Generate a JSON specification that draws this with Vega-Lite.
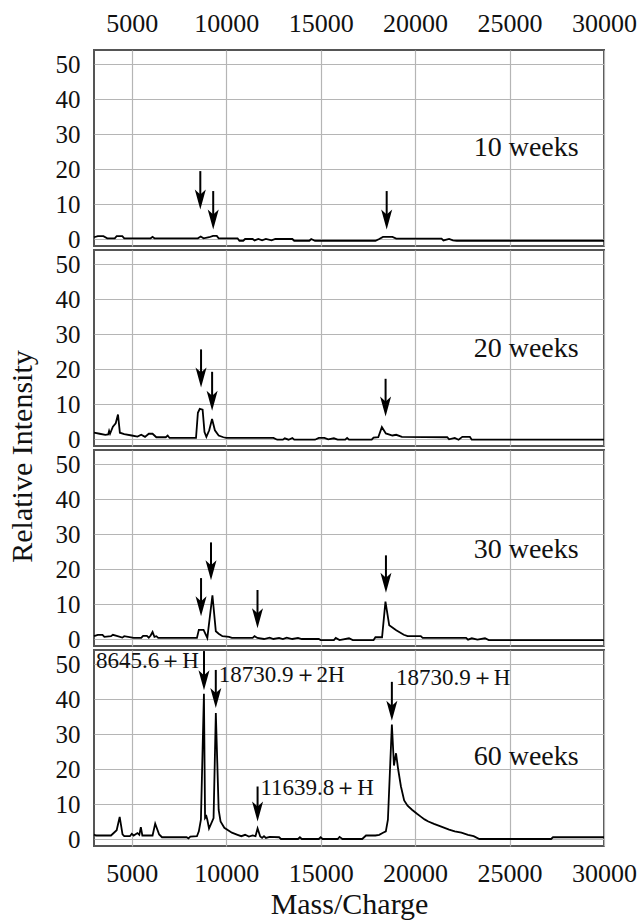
{
  "$schema": "https://vega.github.io/schema/vega-lite/v6.json",
  "padding": {"top": 9, "left": 6, "right": 0, "bottom": 0},
  "spacing": 4,
  "bounds": "flush",
  "config": {
    "font": "Liberation Serif",
    "view": {"stroke": "#555555", "strokeWidth": 2},
    "axis": {
      "labelFont": "Liberation Serif", "labelFontSize": 26, "labelColor": "#111111",
      "titleFont": "Liberation Serif", "titleFontSize": 30, "titleFontWeight": "normal", "titleColor": "#111111",
      "gridColor": "#b5b5b5", "gridWidth": 1.2, "domain": false, "ticks": false, "tickSize": 0,
      "labelFlush": false, "labelBound": false, "labelOverlap": false
    },
    "axisY": {"labelFontSize": 25}
  },
  "datasets": {
    "curve": [
      {"p": "10", "m": 3000, "v": 0.5}, {"p": "10", "m": 3200, "v": 0.8}, {"p": "10", "m": 3500, "v": 0.8}, {"p": "10", "m": 3700, "v": 0.2},
      {"p": "10", "m": 4100, "v": 0.2}, {"p": "10", "m": 4200, "v": 0.8}, {"p": "10", "m": 4500, "v": 0.8}, {"p": "10", "m": 4600, "v": 0.2},
      {"p": "10", "m": 6000, "v": 0.2}, {"p": "10", "m": 6100, "v": 0.6}, {"p": "10", "m": 6200, "v": 0.2}, {"p": "10", "m": 8500, "v": 0.2},
      {"p": "10", "m": 8650, "v": 0.7}, {"p": "10", "m": 8800, "v": 0.2}, {"p": "10", "m": 9100, "v": 0.5}, {"p": "10", "m": 9300, "v": 0.9},
      {"p": "10", "m": 9500, "v": 0.9}, {"p": "10", "m": 9600, "v": 0.2}, {"p": "10", "m": 10600, "v": 0.2}, {"p": "10", "m": 10700, "v": -0.5},
      {"p": "10", "m": 10900, "v": -0.5}, {"p": "10", "m": 11000, "v": 0}, {"p": "10", "m": 11400, "v": 0}, {"p": "10", "m": 11500, "v": -0.4},
      {"p": "10", "m": 11700, "v": 0}, {"p": "10", "m": 11900, "v": -0.4}, {"p": "10", "m": 12100, "v": 0}, {"p": "10", "m": 12400, "v": -0.4},
      {"p": "10", "m": 12600, "v": 0}, {"p": "10", "m": 13500, "v": 0}, {"p": "10", "m": 13600, "v": -0.5}, {"p": "10", "m": 14400, "v": -0.5},
      {"p": "10", "m": 14500, "v": 0}, {"p": "10", "m": 14700, "v": -0.5}, {"p": "10", "m": 17900, "v": -0.5}, {"p": "10", "m": 18100, "v": 0},
      {"p": "10", "m": 18300, "v": 0.6}, {"p": "10", "m": 18800, "v": 0.6}, {"p": "10", "m": 19000, "v": 0.1}, {"p": "10", "m": 21400, "v": 0.1},
      {"p": "10", "m": 21500, "v": -0.4}, {"p": "10", "m": 21800, "v": 0}, {"p": "10", "m": 22000, "v": -0.4}, {"p": "10", "m": 22200, "v": -0.5},
      {"p": "10", "m": 30000, "v": -0.5},

      {"p": "20", "m": 3000, "v": 1.8}, {"p": "20", "m": 3300, "v": 1.5}, {"p": "20", "m": 3600, "v": 1.2}, {"p": "20", "m": 3750, "v": 1.3},
      {"p": "20", "m": 3800, "v": 2.3}, {"p": "20", "m": 3850, "v": 1.5}, {"p": "20", "m": 4000, "v": 3.5}, {"p": "20", "m": 4150, "v": 4.5},
      {"p": "20", "m": 4270, "v": 7.0}, {"p": "20", "m": 4370, "v": 1.8}, {"p": "20", "m": 4600, "v": 1.4}, {"p": "20", "m": 5000, "v": 1.0},
      {"p": "20", "m": 5300, "v": 0.7}, {"p": "20", "m": 5500, "v": 1.2}, {"p": "20", "m": 5700, "v": 0.6}, {"p": "20", "m": 5900, "v": 1.5},
      {"p": "20", "m": 6100, "v": 1.5}, {"p": "20", "m": 6300, "v": 0.5}, {"p": "20", "m": 6800, "v": 0.5}, {"p": "20", "m": 6900, "v": 1.0},
      {"p": "20", "m": 7000, "v": 0.3}, {"p": "20", "m": 8400, "v": 0.3}, {"p": "20", "m": 8500, "v": 7.5}, {"p": "20", "m": 8600, "v": 8.6},
      {"p": "20", "m": 8750, "v": 8.4}, {"p": "20", "m": 8850, "v": 2.0}, {"p": "20", "m": 8950, "v": 0.6}, {"p": "20", "m": 9100, "v": 2.5},
      {"p": "20", "m": 9250, "v": 5.7}, {"p": "20", "m": 9400, "v": 2.5}, {"p": "20", "m": 9600, "v": 1.0}, {"p": "20", "m": 9850, "v": 0.5},
      {"p": "20", "m": 10000, "v": 0.3}, {"p": "20", "m": 12500, "v": 0.3}, {"p": "20", "m": 12700, "v": -0.2}, {"p": "20", "m": 13000, "v": -0.2},
      {"p": "20", "m": 13100, "v": 0.2}, {"p": "20", "m": 13300, "v": -0.2}, {"p": "20", "m": 13500, "v": 0.3}, {"p": "20", "m": 13600, "v": -0.2},
      {"p": "20", "m": 14700, "v": -0.2}, {"p": "20", "m": 14900, "v": 0.3}, {"p": "20", "m": 15200, "v": 0.3}, {"p": "20", "m": 15400, "v": -0.1},
      {"p": "20", "m": 15700, "v": 0.2}, {"p": "20", "m": 15900, "v": -0.2}, {"p": "20", "m": 16300, "v": -0.2}, {"p": "20", "m": 16400, "v": 0.3},
      {"p": "20", "m": 16500, "v": -0.2}, {"p": "20", "m": 17700, "v": -0.2}, {"p": "20", "m": 17800, "v": 0.4}, {"p": "20", "m": 18050, "v": 0.5},
      {"p": "20", "m": 18240, "v": 3.4}, {"p": "20", "m": 18450, "v": 1.6}, {"p": "20", "m": 18800, "v": 1.0}, {"p": "20", "m": 19000, "v": 1.2},
      {"p": "20", "m": 19300, "v": 0.6}, {"p": "20", "m": 21700, "v": 0.5}, {"p": "20", "m": 21800, "v": -0.1}, {"p": "20", "m": 22100, "v": 0.3},
      {"p": "20", "m": 22300, "v": -0.2}, {"p": "20", "m": 22500, "v": 0.6}, {"p": "20", "m": 22900, "v": 0.6}, {"p": "20", "m": 23000, "v": -0.2},
      {"p": "20", "m": 30000, "v": -0.2},

      {"p": "30", "m": 3000, "v": 0.8}, {"p": "30", "m": 3200, "v": 1.2}, {"p": "30", "m": 3450, "v": 1.2}, {"p": "30", "m": 3550, "v": 0.6},
      {"p": "30", "m": 3900, "v": 0.8}, {"p": "30", "m": 4000, "v": 1.2}, {"p": "30", "m": 4200, "v": 0.9}, {"p": "30", "m": 4500, "v": 0.4},
      {"p": "30", "m": 4600, "v": 0.8}, {"p": "30", "m": 5100, "v": 0.3}, {"p": "30", "m": 5500, "v": 0.3}, {"p": "30", "m": 5600, "v": 0.9},
      {"p": "30", "m": 5800, "v": 0.9}, {"p": "30", "m": 5900, "v": 0.4}, {"p": "30", "m": 6000, "v": 1.0}, {"p": "30", "m": 6100, "v": 2.0},
      {"p": "30", "m": 6200, "v": 0.6}, {"p": "30", "m": 6300, "v": 0.8}, {"p": "30", "m": 6400, "v": 0.3}, {"p": "30", "m": 8450, "v": 0.3},
      {"p": "30", "m": 8550, "v": 2.6}, {"p": "30", "m": 8800, "v": 2.6}, {"p": "30", "m": 9000, "v": 0.3}, {"p": "30", "m": 9270, "v": 12.5},
      {"p": "30", "m": 9450, "v": 2.2}, {"p": "30", "m": 9600, "v": 1.5}, {"p": "30", "m": 9800, "v": 0.8}, {"p": "30", "m": 10150, "v": 0.6},
      {"p": "30", "m": 10300, "v": 0.3}, {"p": "30", "m": 11400, "v": 0.3}, {"p": "30", "m": 11500, "v": 0.8}, {"p": "30", "m": 11650, "v": 0.3},
      {"p": "30", "m": 12000, "v": 0}, {"p": "30", "m": 12300, "v": 0.4}, {"p": "30", "m": 12500, "v": 0}, {"p": "30", "m": 12800, "v": 0.3},
      {"p": "30", "m": 13000, "v": 0}, {"p": "30", "m": 13200, "v": 0.4}, {"p": "30", "m": 13500, "v": 0}, {"p": "30", "m": 13800, "v": 0.3},
      {"p": "30", "m": 14000, "v": 0}, {"p": "30", "m": 14900, "v": 0}, {"p": "30", "m": 15000, "v": -0.3}, {"p": "30", "m": 15700, "v": -0.3},
      {"p": "30", "m": 15800, "v": 0.3}, {"p": "30", "m": 16000, "v": -0.3}, {"p": "30", "m": 16500, "v": 0.2}, {"p": "30", "m": 16700, "v": -0.3},
      {"p": "30", "m": 17800, "v": -0.3}, {"p": "30", "m": 17900, "v": 0.5}, {"p": "30", "m": 18250, "v": 0.5}, {"p": "30", "m": 18430, "v": 10.7},
      {"p": "30", "m": 18630, "v": 3.9}, {"p": "30", "m": 19000, "v": 2.5}, {"p": "30", "m": 19400, "v": 1.2}, {"p": "30", "m": 19600, "v": 0.8},
      {"p": "30", "m": 20300, "v": 0.8}, {"p": "30", "m": 20400, "v": 0.3}, {"p": "30", "m": 22700, "v": 0.3}, {"p": "30", "m": 22800, "v": -0.2},
      {"p": "30", "m": 23000, "v": 0.2}, {"p": "30", "m": 23300, "v": -0.2}, {"p": "30", "m": 23700, "v": 0.2}, {"p": "30", "m": 23900, "v": -0.3},
      {"p": "30", "m": 30000, "v": -0.3},

      {"p": "60", "m": 3000, "v": 1.3}, {"p": "60", "m": 3100, "v": 1.0}, {"p": "60", "m": 3900, "v": 1.0}, {"p": "60", "m": 4000, "v": 1.5},
      {"p": "60", "m": 4200, "v": 2.5}, {"p": "60", "m": 4360, "v": 6.3}, {"p": "60", "m": 4510, "v": 1.3}, {"p": "60", "m": 4600, "v": 0.8},
      {"p": "60", "m": 4900, "v": 0.8}, {"p": "60", "m": 5000, "v": 1.5}, {"p": "60", "m": 5100, "v": 1.0}, {"p": "60", "m": 5300, "v": 1.7},
      {"p": "60", "m": 5400, "v": 1.2}, {"p": "60", "m": 5480, "v": 3.4}, {"p": "60", "m": 5560, "v": 1.0}, {"p": "60", "m": 6100, "v": 1.0},
      {"p": "60", "m": 6240, "v": 4.4}, {"p": "60", "m": 6450, "v": 1.3}, {"p": "60", "m": 6600, "v": 0.5}, {"p": "60", "m": 7900, "v": 0.5},
      {"p": "60", "m": 8000, "v": 0.2}, {"p": "60", "m": 8100, "v": 0.7}, {"p": "60", "m": 8450, "v": 0.8}, {"p": "60", "m": 8550, "v": 2.2},
      {"p": "60", "m": 8660, "v": 5.5}, {"p": "60", "m": 8820, "v": 41.5}, {"p": "60", "m": 8880, "v": 6.0}, {"p": "60", "m": 8950, "v": 6.5},
      {"p": "60", "m": 9000, "v": 5.5}, {"p": "60", "m": 9090, "v": 3.0}, {"p": "60", "m": 9330, "v": 6.0}, {"p": "60", "m": 9450, "v": 36.0},
      {"p": "60", "m": 9600, "v": 8.3}, {"p": "60", "m": 9700, "v": 5.0}, {"p": "60", "m": 9900, "v": 3.2}, {"p": "60", "m": 10300, "v": 1.8},
      {"p": "60", "m": 10600, "v": 1.2}, {"p": "60", "m": 10800, "v": 0.8}, {"p": "60", "m": 11000, "v": 1.2}, {"p": "60", "m": 11200, "v": 0.7},
      {"p": "60", "m": 11400, "v": 1.0}, {"p": "60", "m": 11550, "v": 0.8}, {"p": "60", "m": 11660, "v": 3.0}, {"p": "60", "m": 11800, "v": 0.7},
      {"p": "60", "m": 11900, "v": 0.3}, {"p": "60", "m": 12000, "v": 0.8}, {"p": "60", "m": 12100, "v": 0.3}, {"p": "60", "m": 12300, "v": 0.6},
      {"p": "60", "m": 12800, "v": 0.5}, {"p": "60", "m": 12900, "v": 0}, {"p": "60", "m": 13800, "v": 0}, {"p": "60", "m": 13900, "v": 0.5},
      {"p": "60", "m": 14000, "v": 0}, {"p": "60", "m": 14900, "v": 0}, {"p": "60", "m": 15000, "v": 0.5}, {"p": "60", "m": 15100, "v": 0},
      {"p": "60", "m": 15900, "v": 0}, {"p": "60", "m": 16000, "v": 0.6}, {"p": "60", "m": 16150, "v": 0}, {"p": "60", "m": 17200, "v": 0},
      {"p": "60", "m": 17400, "v": 1.0}, {"p": "60", "m": 17900, "v": 1.0}, {"p": "60", "m": 18100, "v": 1.2}, {"p": "60", "m": 18300, "v": 1.8},
      {"p": "60", "m": 18450, "v": 2.2}, {"p": "60", "m": 18560, "v": 5.5}, {"p": "60", "m": 18770, "v": 32.7}, {"p": "60", "m": 18880, "v": 21.0},
      {"p": "60", "m": 18990, "v": 24.5}, {"p": "60", "m": 19100, "v": 20.0}, {"p": "60", "m": 19250, "v": 15.0}, {"p": "60", "m": 19420, "v": 11.0},
      {"p": "60", "m": 19600, "v": 9.5}, {"p": "60", "m": 19850, "v": 8.3}, {"p": "60", "m": 20100, "v": 7.2}, {"p": "60", "m": 20300, "v": 6.4},
      {"p": "60", "m": 20500, "v": 5.6}, {"p": "60", "m": 20700, "v": 5.0}, {"p": "60", "m": 21000, "v": 4.3}, {"p": "60", "m": 21350, "v": 3.6},
      {"p": "60", "m": 21800, "v": 2.7}, {"p": "60", "m": 22100, "v": 2.2}, {"p": "60", "m": 22450, "v": 1.8}, {"p": "60", "m": 22800, "v": 1.2},
      {"p": "60", "m": 23100, "v": 0.8}, {"p": "60", "m": 23400, "v": 0}, {"p": "60", "m": 27200, "v": 0}, {"p": "60", "m": 27300, "v": 0.5},
      {"p": "60", "m": 30000, "v": 0.5}
    ],
    "arrows": [
      {"p": "10", "m": 8628, "v": 19.4, "tip": 8.4}, {"p": "10", "m": 9311, "v": 13.7, "tip": 2.7}, {"p": "10", "m": 18495, "v": 13.7, "tip": 2.7},
      {"p": "20", "m": 8667, "v": 25.6, "tip": 14.7}, {"p": "20", "m": 9253, "v": 19.2, "tip": 8.1}, {"p": "20", "m": 18437, "v": 17.2, "tip": 6.4},
      {"p": "30", "m": 8667, "v": 17.4, "tip": 6.5}, {"p": "30", "m": 9194, "v": 27.6, "tip": 16.8}, {"p": "30", "m": 11656, "v": 14.0, "tip": 3.1}, {"p": "30", "m": 18456, "v": 23.9, "tip": 13.2},
      {"p": "60", "m": 8823, "v": 53.7, "tip": 42.5}, {"p": "60", "m": 9448, "v": 48.3, "tip": 37.4}, {"p": "60", "m": 18769, "v": 44.9, "tip": 33.8}, {"p": "60", "m": 11660, "v": 15.0, "tip": 5.0}
    ],
    "heads": [
      {"p": "10", "m": 8628, "v": 8.4}, {"p": "10", "m": 9311, "v": 2.7}, {"p": "10", "m": 18495, "v": 2.7},
      {"p": "20", "m": 8667, "v": 14.7}, {"p": "20", "m": 9253, "v": 8.1}, {"p": "20", "m": 18437, "v": 6.4},
      {"p": "30", "m": 8667, "v": 6.5}, {"p": "30", "m": 9194, "v": 16.8}, {"p": "30", "m": 11656, "v": 3.1}, {"p": "30", "m": 18456, "v": 13.2},
      {"p": "60", "m": 8823, "v": 42.5}, {"p": "60", "m": 9448, "v": 37.4}, {"p": "60", "m": 18769, "v": 33.8}, {"p": "60", "m": 11660, "v": 5.0}
    ],
    "labels": [
      {"p": "10", "kind": "week", "m": 23100, "v": 26.0, "t": "10 weeks"},
      {"p": "20", "kind": "week", "m": 23100, "v": 25.8, "t": "20 weeks"},
      {"p": "30", "kind": "week", "m": 23100, "v": 25.4, "t": "30 weeks"},
      {"p": "60", "kind": "week", "m": 23100, "v": 23.5, "t": "60 weeks"},
      {"p": "60", "kind": "peak", "m": 3100, "v": 50.8, "t": "8645.6＋H"},
      {"p": "60", "kind": "peak", "m": 9605, "v": 46.9, "t": "18730.9＋2H"},
      {"p": "60", "kind": "peak", "m": 18983, "v": 45.9, "t": "18730.9＋H"},
      {"p": "60", "kind": "peak", "m": 11813, "v": 14.7, "t": "11639.8＋H"}
    ]
  },
  "vconcat": [
    {
      "width": 510, "height": 196,
      "encoding": {
        "x": {"field": "m", "type": "quantitative", "title": null, "scale": {"domain": [3000, 30000], "nice": false, "zero": false},
              "axis": {"orient": "top", "values": [5000, 10000, 15000, 20000, 25000, 30000], "format": "d", "labelPadding": 14, "grid": true}},
        "y": {"field": "v", "type": "quantitative", "title": null, "scale": {"domain": [-2, 54], "nice": false, "zero": false},
              "axis": {"values": [0, 10, 20, 30, 40, 50], "labelPadding": 14, "grid": true}}
      },
      "layer": [
        {"data": {"name": "curve"}, "transform": [{"filter": "datum.p === '10'"}],
         "mark": {"type": "line", "color": "black", "strokeWidth": 1.8}},
        {"data": {"name": "arrows"}, "transform": [{"filter": "datum.p === '10'"}],
         "mark": {"type": "rule", "color": "black", "strokeWidth": 2, "y2Offset": -10},
         "encoding": {"y2": {"field": "tip"}}},
        {"data": {"name": "heads"}, "transform": [{"filter": "datum.p === '10'"}],
         "mark": {"type": "point", "shape": "M0,0L-0.55,-2L0,-1.5L0.55,-2Z", "filled": true, "size": 400, "color": "black", "opacity": 1, "strokeWidth": 0}},
        {"data": {"name": "labels"}, "transform": [{"filter": "datum.p === '10' && datum.kind === 'week'"}],
         "mark": {"type": "text", "align": "left", "baseline": "middle", "font": "Liberation Serif", "fontSize": 28, "color": "#111111"},
         "encoding": {"text": {"field": "t"}}}
      ]
    },
    {
      "width": 510, "height": 196,
      "encoding": {
        "x": {"field": "m", "type": "quantitative", "title": null, "scale": {"domain": [3000, 30000], "nice": false, "zero": false},
              "axis": {"orient": "bottom", "values": [5000, 10000, 15000, 20000, 25000, 30000], "labels": false, "grid": true}},
        "y": {"field": "v", "type": "quantitative", "title": "Relative Intensity", "scale": {"domain": [-2, 54], "nice": false, "zero": false},
              "axis": {"values": [0, 10, 20, 30, 40, 50], "titleY": 206, "titlePadding": 18, "labelPadding": 14, "grid": true}}
      },
      "layer": [
        {"data": {"name": "curve"}, "transform": [{"filter": "datum.p === '20'"}],
         "mark": {"type": "line", "color": "black", "strokeWidth": 1.8}},
        {"data": {"name": "arrows"}, "transform": [{"filter": "datum.p === '20'"}],
         "mark": {"type": "rule", "color": "black", "strokeWidth": 2, "y2Offset": -10},
         "encoding": {"y2": {"field": "tip"}}},
        {"data": {"name": "heads"}, "transform": [{"filter": "datum.p === '20'"}],
         "mark": {"type": "point", "shape": "M0,0L-0.55,-2L0,-1.5L0.55,-2Z", "filled": true, "size": 400, "color": "black", "opacity": 1, "strokeWidth": 0}},
        {"data": {"name": "labels"}, "transform": [{"filter": "datum.p === '20' && datum.kind === 'week'"}],
         "mark": {"type": "text", "align": "left", "baseline": "middle", "font": "Liberation Serif", "fontSize": 28, "color": "#111111"},
         "encoding": {"text": {"field": "t"}}}
      ]
    },
    {
      "width": 510, "height": 196,
      "encoding": {
        "x": {"field": "m", "type": "quantitative", "title": null, "scale": {"domain": [3000, 30000], "nice": false, "zero": false},
              "axis": {"orient": "bottom", "values": [5000, 10000, 15000, 20000, 25000, 30000], "labels": false, "grid": true}},
        "y": {"field": "v", "type": "quantitative", "title": null, "scale": {"domain": [-2, 54], "nice": false, "zero": false},
              "axis": {"values": [0, 10, 20, 30, 40, 50], "labelPadding": 14, "grid": true}}
      },
      "layer": [
        {"data": {"name": "curve"}, "transform": [{"filter": "datum.p === '30'"}],
         "mark": {"type": "line", "color": "black", "strokeWidth": 1.8}},
        {"data": {"name": "arrows"}, "transform": [{"filter": "datum.p === '30'"}],
         "mark": {"type": "rule", "color": "black", "strokeWidth": 2, "y2Offset": -10},
         "encoding": {"y2": {"field": "tip"}}},
        {"data": {"name": "heads"}, "transform": [{"filter": "datum.p === '30'"}],
         "mark": {"type": "point", "shape": "M0,0L-0.55,-2L0,-1.5L0.55,-2Z", "filled": true, "size": 400, "color": "black", "opacity": 1, "strokeWidth": 0}},
        {"data": {"name": "labels"}, "transform": [{"filter": "datum.p === '30' && datum.kind === 'week'"}],
         "mark": {"type": "text", "align": "left", "baseline": "middle", "font": "Liberation Serif", "fontSize": 28, "color": "#111111"},
         "encoding": {"text": {"field": "t"}}}
      ]
    },
    {
      "width": 510, "height": 196,
      "encoding": {
        "x": {"field": "m", "type": "quantitative", "title": "Mass/Charge", "scale": {"domain": [3000, 30000], "nice": false, "zero": false},
              "axis": {"orient": "bottom", "values": [5000, 10000, 15000, 20000, 25000, 30000], "format": "d", "labelPadding": 14, "titlePadding": 3, "grid": true}},
        "y": {"field": "v", "type": "quantitative", "title": null, "scale": {"domain": [-2, 54], "nice": false, "zero": false},
              "axis": {"values": [0, 10, 20, 30, 40, 50], "labelPadding": 14, "grid": true}}
      },
      "layer": [
        {"data": {"name": "curve"}, "transform": [{"filter": "datum.p === '60'"}],
         "mark": {"type": "line", "color": "black", "strokeWidth": 1.8}},
        {"data": {"name": "arrows"}, "transform": [{"filter": "datum.p === '60'"}],
         "mark": {"type": "rule", "color": "black", "strokeWidth": 2, "y2Offset": -10},
         "encoding": {"y2": {"field": "tip"}}},
        {"data": {"name": "heads"}, "transform": [{"filter": "datum.p === '60'"}],
         "mark": {"type": "point", "shape": "M0,0L-0.55,-2L0,-1.5L0.55,-2Z", "filled": true, "size": 400, "color": "black", "opacity": 1, "strokeWidth": 0}},
        {"data": {"name": "labels"}, "transform": [{"filter": "datum.p === '60' && datum.kind === 'week'"}],
         "mark": {"type": "text", "align": "left", "baseline": "middle", "font": "Liberation Serif", "fontSize": 28, "color": "#111111"},
         "encoding": {"text": {"field": "t"}}},
        {"data": {"name": "labels"}, "transform": [{"filter": "datum.p === '60' && datum.kind === 'peak'"}],
         "mark": {"type": "text", "align": "left", "baseline": "middle", "font": "Liberation Serif", "fontSize": 23, "color": "#111111"},
         "encoding": {"text": {"field": "t"}}}
      ]
    }
  ]
}
